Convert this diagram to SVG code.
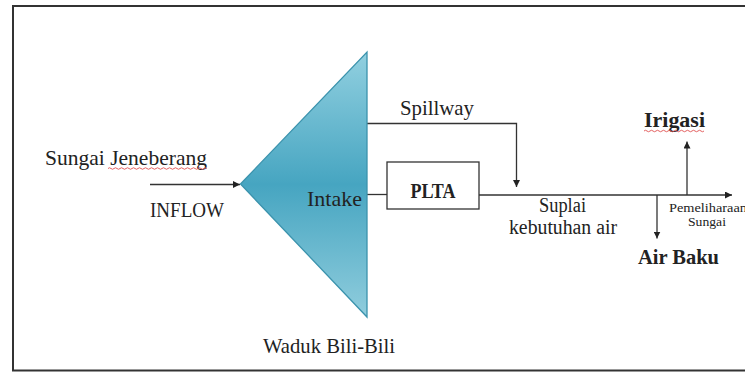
<svg xmlns="http://www.w3.org/2000/svg" width="745" height="372" viewBox="0 0 745 372">
<defs>
<style>
text{font-family:"Liberation Serif","DejaVu Serif",serif;fill:#222;}
.t{font-size:21px;}
.b{font-size:21px;font-weight:bold;}
.s{font-size:12px;}
.m{font-size:20px;}
.ln{stroke:#333;stroke-width:1.3;fill:none;}
.sq{stroke:#e05050;stroke-width:0.9;fill:none;}
</style>
<linearGradient id="g" x1="0" y1="0" x2="0" y2="1">
<stop offset="0" stop-color="#92d0e0"/>
<stop offset="0.5" stop-color="#46a5c1"/>
<stop offset="1" stop-color="#90cddd"/>
</linearGradient>
<marker id="ah" viewBox="0 0 10 10" refX="10" refY="5" markerWidth="7" markerHeight="7" markerUnits="userSpaceOnUse" orient="auto">
<path d="M0,0 L10,5 L0,10 Z" fill="#222"/>
</marker>
</defs>
<rect x="13" y="6" width="740" height="364.5" fill="#fff" stroke="#333" stroke-width="2"/>
<g id="connectors">
<line class="ln" x1="150" y1="184.5" x2="240" y2="184.5" marker-end="url(#ah)"/>
<polyline class="ln" points="367,123.5 516.5,123.5 516.5,187" marker-end="url(#ah)"/>
<line class="ln" x1="367" y1="194.5" x2="387" y2="194.5"/>
<line class="ln" x1="479" y1="195" x2="732" y2="195" marker-end="url(#ah)"/>
<line class="ln" x1="657" y1="195" x2="657" y2="238.5" marker-end="url(#ah)"/>
<line class="ln" x1="687" y1="195" x2="687" y2="141.5" marker-end="url(#ah)"/>
</g>
<g id="waduk">
<polygon points="240.5,184 367,52 367,317" fill="url(#g)" stroke="#3b93ad" stroke-width="1.3"/>
<text class="t" x="307" y="206" textLength="55" lengthAdjust="spacingAndGlyphs">Intake</text>
<text class="t" x="263" y="353" textLength="132" lengthAdjust="spacingAndGlyphs">Waduk Bili-Bili</text>
</g>
<g id="sungai">
<text class="t" x="45" y="165" textLength="162" lengthAdjust="spacingAndGlyphs">Sungai Jeneberang</text>
<path class="sq" d="M108,168.5 q1.5,-1.5 3,0 t3,0 t3,0 t3,0 t3,0 t3,0 t3,0 t3,0 t3,0 t3,0 t3,0 t3,0 t3,0 t3,0 t3,0 t3,0 t3,0 t3,0 t3,0 t3,0 t3,0 t3,0 t3,0 t3,0 t3,0 t3,0 t3,0 t3,0 t3,0 t3,0 t3,0 t3,0 t3,0"/>
</g>
<g id="inflow">
<text class="t" x="150" y="217" textLength="74" lengthAdjust="spacingAndGlyphs">INFLOW</text>
</g>
<g id="spillway">
<text class="t" x="400" y="115" textLength="74" lengthAdjust="spacingAndGlyphs">Spillway</text>
</g>
<g id="plta">
<rect x="387" y="162" width="92" height="47" fill="#fff" stroke="#333" stroke-width="1.3"/>
<text class="b" x="410.5" y="198" textLength="45" lengthAdjust="spacingAndGlyphs">PLTA</text>
</g>
<g id="suplai">
<text class="m" x="539" y="212" textLength="47" lengthAdjust="spacingAndGlyphs">Suplai</text>
<text class="m" x="509" y="234" textLength="108" lengthAdjust="spacingAndGlyphs">kebutuhan air</text>
</g>
<g id="irigasi">
<text class="b" x="644" y="127" textLength="61" lengthAdjust="spacingAndGlyphs">Irigasi</text>
<path class="sq" d="M644,131 q1.5,-1.5 3,0 t3,0 t3,0 t3,0 t3,0 t3,0 t3,0 t3,0 t3,0 t3,0 t3,0 t3,0 t3,0 t3,0 t3,0 t3,0 t3,0 t3,0 t3,0 t3,0"/>
</g>
<g id="airbaku">
<text class="b" x="638" y="264" textLength="81" lengthAdjust="spacingAndGlyphs">Air Baku</text>
</g>
<g id="pemeliharaan">
<text class="s" x="669" y="211.5" textLength="78" lengthAdjust="spacingAndGlyphs">Pemeliharaan</text>
<text class="s" x="688" y="226" textLength="38" lengthAdjust="spacingAndGlyphs">Sungai</text>
</g>
</svg>
